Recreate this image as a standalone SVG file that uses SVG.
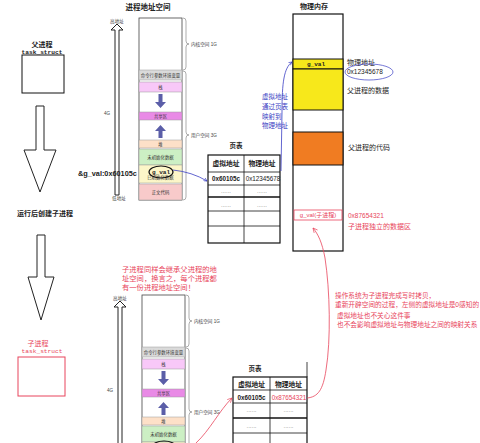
<svg xmlns="http://www.w3.org/2000/svg" width="480" height="443" viewBox="0 0 480 443">
<style>
text{font-family:'Liberation Sans','Noto Sans CJK SC',sans-serif;fill:#222}
.mono{font-family:'Liberation Mono','DejaVu Sans Mono','Noto Sans CJK SC',monospace}
.b{font-weight:bold}
.sm{font-size:4.6px;fill:#444}
.seg{stroke:#9a9a9a;stroke-width:0.5}
.sx{font-size:4.4px;fill:#333;text-anchor:middle}
.box{fill:#fff;stroke:#444;stroke-width:0.8}
.red{fill:#e8455c}
.blue{fill:#3b3fc4}
.tbl{fill:none;stroke:#111;stroke-width:1.2}
.tl{stroke:#111;stroke-width:0.8}
.tk{stroke:#111;stroke-width:1.6}
.brace{fill:none;stroke:#777;stroke-width:0.6}
.parr{fill:#5b5ea8}
.hol{fill:#fff;stroke:#222;stroke-width:1}
.dots{font-size:6px;fill:#777;text-anchor:middle}
</style>
<defs>
<marker id="ab" viewBox="0 0 10 10" refX="9" refY="5" markerWidth="5" markerHeight="5" orient="auto"><path d="M1,1 L9,5 L1,9" fill="none" stroke="#3b3fc4" stroke-width="1.6"/></marker>
<marker id="ar" viewBox="0 0 10 10" refX="9" refY="5" markerWidth="7" markerHeight="7" orient="auto"><path d="M1,1 L9,5 L1,9" fill="none" stroke="#e8455c" stroke-width="1.2"/></marker>
</defs>

<g id="parent-task">
<text x="42" y="47" font-size="7" class="b" text-anchor="middle">父进程</text>
<text x="42" y="54" font-size="6.2" class="mono b" text-anchor="middle">task_struct</text>
<rect x="22" y="55" width="42" height="38" fill="#fff" stroke="#111" stroke-width="1"/>
</g>

<g id="arrow-1">
<path class="hol" d="M36,106 h8 v44 h12 l-16,42 l-16,-42 h12 z"/>
</g>

<g id="fork-label">
<text x="45" y="215.5" font-size="7" class="b" text-anchor="middle" fill="#333">运行后创建子进程</text>
</g>

<g id="arrow-2">
<path class="hol" d="M37,235 h8 v42 h9 l-13,43 l-13,-43 h9 z"/>
</g>

<g id="child-task">
<text x="38" y="345.5" font-size="7" class="red" text-anchor="middle">子进程</text>
<text x="42" y="353" font-size="6.2" class="mono red" text-anchor="middle">task_struct</text>
<rect x="18" y="357" width="47" height="39" fill="#fff" stroke="#e8455c" stroke-width="1"/>
</g>

<g id="vas-title">
<text x="148" y="10" font-size="7.5" class="b" text-anchor="middle">进程地址空间</text>
</g>

<g id="vas-parent" transform="translate(139,18)">
<rect class="box" x="0" y="0" width="43" height="182"/>
<rect class="seg" x="0" y="52" width="43" height="10" fill="#dadada"/>
<text class="sx" x="21.5" y="58.6">命令行参数环境变量</text>
<rect class="seg" x="0" y="64" width="43" height="10" fill="#f8c8f8"/>
<text class="sx" x="21.5" y="70.6">栈</text>
<path class="parr" d="M19.5,76 h4 v8 h3.5 l-5.5,6 l-5.5,-6 h3.5z"/>
<rect class="seg" x="0" y="94" width="43" height="8" fill="#e98ae6"/>
<text class="sx" x="21.5" y="99.6">共享区</text>
<path class="parr" d="M21.5,107 l5.5,6 h-3.5 v7 h-4 v-7 h-3.5z"/>
<rect class="seg" x="0" y="122" width="43" height="8" fill="#fde0c8"/>
<text class="sx" x="21.5" y="127.6">堆</text>
<rect class="seg" x="0" y="131" width="43" height="16" fill="#ccefc4"/>
<text class="sx" x="21.5" y="140.6">未初始化数据</text>
<rect class="seg" x="0" y="147" width="43" height="18" fill="#fcf6c8"/>
<text class="sx" x="21.5" y="160.5" fill="#999">已初始化数据</text>
<ellipse cx="22" cy="154" rx="12" ry="6" fill="none" stroke="#111" stroke-width="1.2"/>
<text x="22" y="155.8" font-size="6" class="mono b" text-anchor="middle">g_val</text>
<rect class="seg" x="0" y="166" width="43" height="16" fill="#f8caca"/>
<text class="sx" x="21.5" y="175.6">正文代码</text>
<path class="brace" d="M44,0 q3,0 3,3 v20 q0,3 3,3 q-3,0 -3,3 v20 q0,3 -3,3"/>
<text class="sm" x="52" y="27.6">内核空间 1G</text>
<path class="brace" d="M44,53 q3,0 3,3 v58 q0,3 3,3 q-3,0 -3,3 v59 q0,3 -3,3"/>
<text class="sm" x="52" y="118.6">用户空间 3G</text>
<path class="hol" d="M-24,12 v165 h4 v-165 h4 l-6,-6 l-6,6 z" stroke-width="0.7"/>
<text class="sm" x="-22" y="4.5" text-anchor="middle">高地址</text>
<text class="sm" x="-32" y="96.5" text-anchor="middle">4G</text>
<text class="sm" x="-20" y="182" text-anchor="middle">低地址</text>
</g>

<g id="gval-addr">
<text x="78" y="175.5" font-size="7.3" class="b">&amp;g_val:0x60105c</text>
</g>

<g id="pt-title">
<text x="236" y="148" font-size="6.5" class="b" text-anchor="middle">页表</text>
</g>

<g id="pagetable-parent" transform="translate(208,155)">
<rect class="tbl" x="0" y="0" width="72" height="88"/>
<line class="tl" x1="36" y1="0" x2="36" y2="88"/>
<line class="tl" x1="0" y1="17" x2="72" y2="17"/>
<line class="tl" x1="0" y1="30" x2="72" y2="30"/>
<line class="tk" x1="0" y1="42" x2="72" y2="42"/>
<line class="tl" x1="0" y1="56" x2="72" y2="56"/>
<line class="tl" x1="0" y1="71" x2="72" y2="71"/>
<text x="18" y="11" font-size="6.8" class="b" text-anchor="middle">虚拟地址</text>
<text x="54" y="11" font-size="6.8" class="b" text-anchor="middle">物理地址</text>
<text x="18" y="26" font-size="6.3" class="b" text-anchor="middle">0x60105c</text>
<text x="55" y="26" font-size="6.3" text-anchor="middle">0x12345678</text>
<text class="dots" x="18" y="38">......</text>
<text class="dots" x="54" y="38">......</text>
<text class="dots" x="18" y="52">......</text>
<text class="dots" x="54" y="52">......</text>
</g>

<g id="phys-title">
<text x="314" y="9" font-size="7" class="b" text-anchor="middle">物理内存</text>
</g>

<g id="physmem">
<rect x="293" y="14" width="50" height="237" fill="#fff" stroke="#111" stroke-width="1.2"/>
<rect x="293" y="59" width="50" height="10" fill="#f7e81b" stroke="#111" stroke-width="1"/>
<text x="316" y="66.3" font-size="6" class="mono b" text-anchor="middle">g_val</text>
<rect x="293" y="69" width="50" height="41" fill="#f7e81b" stroke="#111" stroke-width="1"/>
<rect x="293" y="132" width="50" height="33" fill="#f07c22" stroke="#111" stroke-width="1"/>
<rect x="294" y="210" width="48" height="10" fill="none" stroke="#e8455c" stroke-width="0.8"/>
<text x="318" y="217.3" font-size="6" class="red" text-anchor="middle">g_val(子进程)</text>
</g>

<g id="phys-labels">
<text x="347" y="64.5" font-size="7">物理地址</text>
<text x="347" y="74" font-size="6.5">0x12345678</text>
<ellipse cx="369" cy="72" rx="24" ry="8" fill="none" stroke="#3b3fc4" stroke-width="0.7"/>
<text x="347" y="93" font-size="7">父进程的数据</text>
<text x="348" y="150" font-size="7">父进程的代码</text>
<text x="348" y="217.5" font-size="6.5" class="red">0x87654321</text>
<text x="348" y="228.5" font-size="7" class="red">子进程独立的数据区</text>
</g>

<g id="map-note">
<text x="262" y="99" font-size="6.5" class="blue">虚拟地址</text>
<text x="262" y="109" font-size="6.5" class="blue">通过页表</text>
<text x="262" y="119" font-size="6.5" class="blue">映射到</text>
<text x="262" y="128" font-size="6.5" class="blue">物理地址</text>
</g>

<g id="child-note">
<text x="122" y="271.5" font-size="7.3" class="red">子进程同样会继承父进程的地</text>
<text x="122" y="280.5" font-size="7.3" class="red">址空间，换言之，每个进程都</text>
<text x="122" y="289.5" font-size="7.3" class="red">有一份进程地址空间！</text>
</g>

<g id="cow-note">
<text x="335" y="297.5" font-size="6.7" class="red">操作系统为子进程完成写时拷贝，</text>
<text x="335" y="306.5" font-size="6.7" class="red">重新开辟空间的过程，左侧的虚拟地址是0感知的</text>
<text x="337" y="317.5" font-size="6.7" class="red">虚拟地址也不关心这件事</text>
<text x="337" y="326.5" font-size="6.7" class="red">也不会影响虚拟地址与物理地址之间的映射关系</text>
</g>

<g id="vas-child" transform="translate(142,295)">
<rect class="box" x="0" y="0" width="43" height="182"/>
<rect class="seg" x="0" y="52" width="43" height="10" fill="#dadada"/>
<text class="sx" x="21.5" y="58.6">命令行参数环境变量</text>
<rect class="seg" x="0" y="64" width="43" height="10" fill="#f8c8f8"/>
<text class="sx" x="21.5" y="70.6">栈</text>
<path class="parr" d="M19.5,76 h4 v8 h3.5 l-5.5,6 l-5.5,-6 h3.5z"/>
<rect class="seg" x="0" y="94" width="43" height="8" fill="#e98ae6"/>
<text class="sx" x="21.5" y="99.6">共享区</text>
<path class="parr" d="M21.5,107 l5.5,6 h-3.5 v7 h-4 v-7 h-3.5z"/>
<rect class="seg" x="0" y="122" width="43" height="8" fill="#fde0c8"/>
<text class="sx" x="21.5" y="127.6">堆</text>
<rect class="seg" x="0" y="131" width="43" height="16" fill="#ccefc4"/>
<text class="sx" x="21.5" y="140.6">未初始化数据</text>
<rect class="seg" x="0" y="147" width="43" height="18" fill="#fcf6c8"/>
<ellipse cx="22" cy="152" rx="12" ry="6" fill="none" stroke="#111" stroke-width="1.2"/>
<path class="brace" d="M44,0 q3,0 3,3 v20 q0,3 3,3 q-3,0 -3,3 v20 q0,3 -3,3"/>
<text class="sm" x="52" y="27.6">内核空间 1G</text>
<path class="brace" d="M44,53 q3,0 3,3 v58 q0,3 3,3 q-3,0 -3,3 v59 q0,3 -3,3"/>
<text class="sm" x="52" y="118.6">用户空间 3G</text>
<path class="hol" d="M-24,12 v165 h4 v-165 h4 l-6,-6 l-6,6 z" stroke-width="0.7"/>
<text class="sm" x="-22" y="4.5" text-anchor="middle">高地址</text>
<text class="sm" x="-32" y="96.5" text-anchor="middle">4G</text>
</g>

<g id="pt-title-child">
<text x="255" y="371" font-size="6.5" class="b" text-anchor="middle">页表</text>
</g>

<g id="pagetable-child" transform="translate(233,377)">
<line class="tl" x1="74" y1="-15" x2="74" y2="0"/>
<rect class="tbl" x="0" y="0" width="74" height="100"/>
<line class="tl" x1="37" y1="0" x2="37" y2="100"/>
<line class="tl" x1="0" y1="13" x2="74" y2="13"/>
<line class="tl" x1="0" y1="26" x2="74" y2="26"/>
<line class="tk" x1="0" y1="41" x2="74" y2="41"/>
<line class="tl" x1="0" y1="56" x2="74" y2="56"/>
<text x="18.5" y="9.5" font-size="6.8" class="b" text-anchor="middle">虚拟地址</text>
<text x="55.5" y="9.5" font-size="6.8" class="b" text-anchor="middle">物理地址</text>
<text x="18.5" y="22.5" font-size="6.3" class="b" text-anchor="middle">0x60105c</text>
<text x="56" y="22.5" font-size="6.3" class="red" text-anchor="middle">0x87654321</text>
<text class="dots" x="18.5" y="35">......</text>
<text class="dots" x="55.5" y="35">......</text>
<text class="dots" x="18.5" y="51">......</text>
<text class="dots" x="55.5" y="51">......</text>
</g>

<g id="connectors" fill="none">
<path d="M173,170 Q192,172 207,181" stroke="#3b3fc4" stroke-width="0.8" marker-end="url(#ab)"/>
<path d="M281,171 L282,112 C282,82 284,68 292,62" stroke="#3b3fc4" stroke-width="0.8" marker-end="url(#ab)"/>
<path d="M307,398 C318,397 323,390 326,370 C331,340 330,290 325,258 C322,242 318,234 313,228" stroke="#e8455c" stroke-width="0.8" marker-end="url(#ar)"/>
<path d="M196,443 C210,430 219,411 232,398" stroke="#e8455c" stroke-width="0.8" marker-end="url(#ar)"/>
</g>
</svg>
